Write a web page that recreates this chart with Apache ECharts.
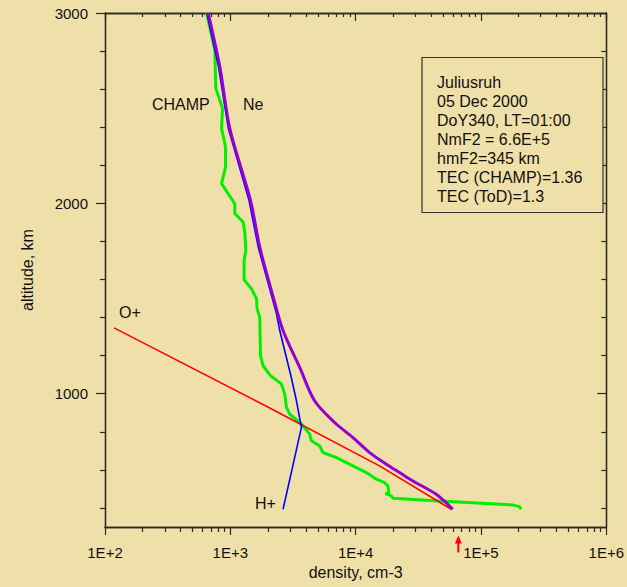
<!DOCTYPE html>
<html><head><meta charset="utf-8">
<script src="https://cdn.jsdelivr.net/npm/echarts@6/dist/echarts.min.js"></script>
<style>html,body{margin:0;padding:0;background:#efe0a9}#c{width:627px;height:587px}</style>
</head><body><div id="c"></div>
<script>
// ---- tick definitions ----
const xMajorTicks = [100, 1000, 10000, 100000, 1000000];
const xTickLabels = ['1E+2', '1E+3', '1E+4', '1E+5', '1E+6'];
const xMinorTicks = [200, 300, 400, 500, 600, 700, 800, 900,
  2000, 3000, 4000, 5000, 6000, 7000, 8000, 9000,
  20000, 30000, 40000, 50000, 60000, 70000, 80000, 90000,
  200000, 300000, 400000, 500000, 600000, 700000, 800000, 900000];
const yMajorTicks = [1000, 2000, 3000];
const yTickLabels = ['1000', '2000', '3000'];
const yMinorTicks = [400, 600, 800, 1200, 1400, 1600, 1800, 2200, 2400, 2600, 2800];

// ---- series data (altitude km, density cm-3) ----
const neAlt = [3000, 2717, 2393, 2016, 1770, 1542, 1332, 1138, 963, 849, 770, 691, 630, 586, 542, 472, 393];
const neDensity = [666, 825, 991, 1449, 1718, 2128, 2634, 3580, 4700, 6800, 9516, 12930, 17570, 22420, 28620, 43950, 59610];

const champAlt = [3000, 2805, 2604, 2498, 2393, 2296, 2191, 2104, 1998, 1946, 1902, 1849, 1753, 1700, 1598, 1551, 1498, 1446, 1402, 1200, 1147, 1095, 1051, 998, 928, 893, 841, 788, 753, 726, 691, 665, 647, 612, 586, 551, 533, 516, 481, 475, 463, 451, 437, 416, 407, 393];
const champDensity = [646, 752, 766, 867, 851, 916, 916, 851, 1086, 1086, 1265, 1305, 1329, 1288, 1288, 1476, 1618, 1635, 1718, 1740, 1826, 2091, 2558, 2719, 2804, 2979, 3693, 4300, 4436, 5166, 5488, 7018, 7922, 10130, 12170, 14620, 17020, 18090, 18420, 17340, 19250, 19830, 46700, 179200, 202700, 209100];

const hAlt = [393, 600, 823, 963, 1100, 1332, 1421, 1770, 2016, 2393, 2717, 3000];
const hDensity = [2634, 3102, 3693, 3370, 3030, 2480, 2334, 1670, 1410, 965, 805, 650];

const oAlt = [1346, 925, 621, 393];
const oDensity = [118, 2064, 15500, 57900];

const nmF2Arrow = 66000;

const infoLines = ['Juliusruh', '05 Dec 2000', 'DoY340, LT=01:00', 'NmF2 = 6.6E+5', 'hmF2=345 km', 'TEC (CHAMP)=1.36', 'TEC (ToD)=1.3'];

// ---- helpers ----
const FONT = "'Liberation Sans', Arial, Helvetica, sans-serif";
const BG = '#efe0a9';
const AX = '#2a2a22';
const pairs = (xs, ys) => xs.map((x, i) => [x, ys[i]]);

const chart = echarts.init(document.getElementById('c'), null, {renderer: 'svg'});

function xAx(pos, major, inside, extra) {
  return Object.assign({
    type: 'log', min: 100, max: 1000000, position: pos,
    axisLine: {show: true, lineStyle: {color: AX, width: 1.3}},
    axisTick: {show: true, inside: inside, length: major ? 8 : (inside ? 4 : 5),
      customValues: major ? xMajorTicks : xMinorTicks, lineStyle: {color: AX, width: 1.2}},
    axisLabel: {show: false}, splitLine: {show: false}
  }, extra || {});
}
function yAx(pos, major, inside, extra) {
  return Object.assign({
    type: 'value', min: 300, max: 3000, position: pos,
    axisLine: {show: true, lineStyle: {color: AX, width: 1.3}},
    axisTick: {show: true, inside: inside, length: major ? 9 : 5,
      customValues: major ? yMajorTicks : yMinorTicks, lineStyle: {color: AX, width: 1.2}},
    axisLabel: {show: false}, splitLine: {show: false}
  }, extra || {});
}

const option = {
  backgroundColor: BG,
  animation: false,
  grid: {left: 105, right: 20, top: 13, bottom: 60},
  xAxis: [
    xAx('bottom', true, false, {
      axisLabel: {show: true, customValues: xMajorTicks, margin: 18, color: '#111', fontSize: 15, fontFamily: FONT,
        formatter: v => xTickLabels[xMajorTicks.indexOf(Math.round(v))] || ('1E+' + Math.round(Math.log10(v)))},
      name: 'density, cm-3', nameLocation: 'middle', nameGap: 35,
      nameTextStyle: {color: '#111', fontSize: 16, fontFamily: FONT}
    }),
    xAx('bottom', false, false),
    xAx('top', true, true),
    xAx('top', false, true)
  ],
  yAxis: [
    yAx('left', true, false, {
      axisLabel: {show: true, customValues: yMajorTicks, margin: 17, color: '#111', fontSize: 15, fontFamily: FONT,
        formatter: v => yTickLabels[yMajorTicks.indexOf(Math.round(v))] || String(v)},
      name: 'altitude, km', nameLocation: 'middle', nameGap: 70, nameRotate: 90,
      nameTextStyle: {color: '#111', fontSize: 16, fontFamily: FONT}
    }),
    yAx('left', false, false),
    yAx('right', true, true),
    yAx('right', false, true)
  ],
  series: [
    {name: 'CHAMP', type: 'line', data: pairs(champDensity, champAlt), showSymbol: false,
      lineStyle: {color: '#00f000', width: 3}, itemStyle: {color: '#00f000'}, z: 2},
    {name: 'O+', type: 'line', data: pairs(oDensity, oAlt), showSymbol: false,
      lineStyle: {color: '#ff0000', width: 1.6}, itemStyle: {color: '#ff0000'}, z: 3},
    {name: 'H+', type: 'line', data: pairs(hDensity, hAlt), showSymbol: false,
      lineStyle: {color: '#0000ff', width: 1.6}, itemStyle: {color: '#0000ff'}, z: 3},
    {name: 'Ne', type: 'line', data: pairs(neDensity, neAlt), showSymbol: false, smooth: 0.3,
      lineStyle: {color: '#9400d3', width: 3}, itemStyle: {color: '#9400d3'}, z: 4}
  ]
};
chart.setOption(option);

// ---- annotations ----
const txt = (t, x, y, size, align) => ({
  type: 'text', x: x, y: y, silent: true, z: 10,
  style: {text: t, fill: '#111', fontSize: size, fontFamily: FONT, textAlign: align || 'left', textVerticalAlign: 'middle'}
});
const graphics = [
  txt('CHAMP', 152, 104, 16),
  txt('Ne', 243, 104, 16),
  txt('O+', 119, 312, 16),
  txt('H+', 255, 503, 16),
  {type: 'rect', z: 9, silent: true, shape: {x: 422, y: 57.5, width: 181, height: 155},
    style: {fill: BG, stroke: '#333', lineWidth: 1.2}}
];
infoLines.forEach((t, i) => graphics.push(txt(t, 437, 82 + i * 19, 16)));

const ax = chart.convertToPixel({xAxisIndex: 0}, nmF2Arrow);
graphics.push({type: 'line', z: 10, silent: true, shape: {x1: ax, y1: 552.5, x2: ax, y2: 541}, style: {stroke: '#ff0000', lineWidth: 2}});
graphics.push({type: 'polygon', z: 10, silent: true, shape: {points: [[ax - 3.5, 543.5], [ax + 3.5, 543.5], [ax, 535.5]]}, style: {fill: '#ff0000'}});
chart.setOption({graphic: graphics});
</script>
</body></html>
